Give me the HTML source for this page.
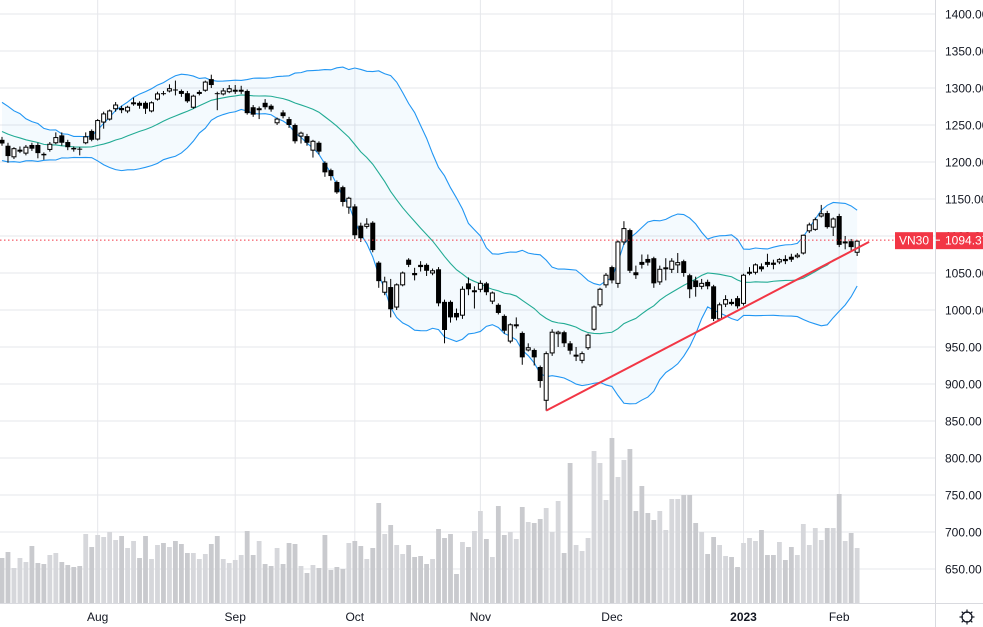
<!DOCTYPE html>
<html><head><meta charset="utf-8"><style>
html,body{margin:0;padding:0;background:#fff;}
svg{display:block;font-family:"Liberation Sans",sans-serif;}
</style></head><body>
<svg id="chart" width="983" height="627" viewBox="0 0 983 627" xmlns="http://www.w3.org/2000/svg">
<g id="grid"></g>
<g id="vol"></g>
<g id="bands"></g>
<g id="candles"></g>
<g id="overlay"></g>
<g id="axes"></g>
</svg>
<script>
const priorCloses=[1280,1275,1262,1270,1255,1248,1260,1240,1232,1250,1228,1238,1220,1235,1225,1215,1230,1222,1215];
const opens=[1230,1222,1207,1215,1212,1223,1223,1211,1217,1226,1236,1227,1219,1218,1226,1242,1231,1254,1258,1272,1273,1269,1280,1280,1280,1269,1285,1293,1296,1298,1296,1293,1274,1293,1297,1312,1293,1292,1295,1297,1297,1296,1274,1271,1280,1276,1253,1267,1258,1250,1235,1235,1216,1226,1199,1189,1173,1166,1139,1140,1114,1113,1118,1064,1024,1031,1004,1034,1068,1050,1061,1061,1050,1055,1011,1011,996,993,1036,1026,1028,1036,1012,1007,992,958,980,969,946,946,923,878,942,968,970,955,939,932,949,974,1007,1034,1058,1036,1092,1108,1051,1065,1069,1070,1038,1057,1055,1061,1066,1047,1040,1032,1038,1032,988,1008,1011,1016,1009,1051,1051,1059,1065,1064,1065,1069,1072,1072,1077,1107,1109,1127,1131,1112,1127,1092,1093,1078];
const closes=[1225,1208,1218,1216,1220,1218,1212,1209,1224,1233,1226,1220,1217,1217,1234,1230,1256,1265,1269,1277,1270,1274,1280,1276,1272,1280,1292,1292,1299,1297,1292,1282,1289,1294,1308,1304,1292,1296,1299,1297,1297,1266,1264,1272,1274,1271,1258,1262,1250,1228,1239,1226,1228,1214,1186,1181,1159,1146,1151,1101,1097,1116,1081,1039,1038,1001,1034,1050,1061,1047,1058,1053,1053,1009,973,990,990,1028,1028,1026,1036,1024,1023,996,972,980,980,936,949,936,904,941,970,970,955,945,939,941,966,1004,1028,1047,1040,1092,1110,1053,1047,1061,1064,1036,1055,1057,1066,1064,1050,1028,1031,1036,1032,988,1007,1014,1008,1005,1047,1051,1061,1055,1061,1061,1068,1066,1068,1074,1101,1115,1122,1130,1112,1123,1088,1092,1085,1093];
const highs=[1234,1226,1220,1221,1223,1226,1226,1213,1227,1240,1240,1230,1221,1220,1240,1244,1258,1268,1271,1281,1276,1276,1287,1282,1282,1282,1295,1296,1305,1310,1298,1296,1291,1297,1310,1318,1295,1300,1304,1304,1303,1298,1277,1275,1285,1278,1260,1270,1261,1252,1241,1238,1230,1228,1201,1191,1175,1168,1153,1143,1118,1124,1120,1066,1045,1042,1036,1052,1070,1057,1066,1063,1056,1058,1014,1013,1002,1032,1044,1032,1040,1038,1025,1009,994,982,990,971,955,948,925,944,974,972,972,958,950,944,968,1006,1030,1050,1060,1094,1120,1110,1060,1075,1075,1072,1060,1070,1070,1077,1068,1049,1045,1042,1041,1034,1010,1020,1015,1019,1049,1058,1063,1063,1076,1068,1070,1074,1076,1077,1102,1118,1125,1142,1134,1125,1130,1100,1096,1094];
const lows=[1222,1199,1204,1212,1209,1215,1205,1203,1214,1224,1222,1216,1214,1209,1224,1228,1229,1245,1256,1268,1266,1266,1276,1272,1265,1267,1283,1290,1294,1290,1288,1280,1272,1290,1295,1300,1270,1290,1293,1292,1292,1264,1261,1258,1271,1268,1250,1259,1246,1225,1225,1222,1206,1210,1180,1175,1157,1140,1130,1096,1092,1110,1078,1030,1020,990,1000,1032,1058,1040,1052,1046,1047,1005,955,983,986,988,1020,1002,1024,1020,1008,994,968,955,975,926,944,925,895,864,938,950,950,940,931,928,946,972,1004,1030,1036,1030,1088,1050,1042,1056,1060,1030,1034,1040,1050,1050,1045,1016,1018,1028,1028,985,985,1004,1006,1002,1006,1047,1048,1052,1058,1055,1062,1062,1065,1070,1075,1104,1107,1125,1110,1100,1085,1082,1080,1073];
const volumes=[45,51,35,45,41,57,40,39,48,50,41,38,36,37,69,56,68,66,71,63,67,55,62,45,67,44,58,60,56,62,59,50,50,44,49,59,67,44,40,43,48,72,48,62,39,37,55,39,60,59,37,30,38,35,68,33,36,34,60,62,57,44,55,100,69,78,58,49,58,46,47,39,44,74,65,69,29,61,56,72,92,64,46,97,68,71,64,96,81,80,84,95,71,102,50,140,58,52,65,152,140,103,165,126,143,154,92,117,90,83,92,73,104,104,108,108,80,71,49,66,58,47,46,36,60,65,62,73,48,48,61,43,56,48,79,58,75,63,75,75,109,62,70,55];
const priceTicks=[1400,1350,1300,1250,1200,1150,1100,1050,1000,950,900,850,800,750,700,650];
const monthLabels=["Aug","Sep","Oct","Nov","Dec","2023","Feb"];
const monthIndex=[16,39,59,80,102,124,140];
const lastPrice=1094.37;
const trendStart=[91,864];
const trendEnd=[145,1092];

const NS="http://www.w3.org/2000/svg";
const PLOT_R=935, VOL_BASE=603;
function xs(i){return 2+i*5.98;}
function ys(p){return 310-(p-1000)*0.74;}
function vh(v){return v;}
function mk(tag,attrs,parent){const e=document.createElementNS(NS,tag);for(const k in attrs)e.setAttribute(k,attrs[k]);parent.appendChild(e);return e;}
const grid=document.getElementById('grid'),volG=document.getElementById('vol'),bandG=document.getElementById('bands'),cG=document.getElementById('candles'),ov=document.getElementById('overlay'),ax=document.getElementById('axes');

priceTicks.forEach(p=>{const l=mk('line',{x1:0,x2:PLOT_R,y1:ys(p),y2:ys(p),stroke:'#e6e7eb','stroke-width':1},grid);

});
monthIndex.forEach((mi,k)=>{const x=xs(mi);const l=mk('line',{x1:x,x2:x,y1:0,y2:VOL_BASE,stroke:'#e6e7eb','stroke-width':1},grid);

});

volumes.forEach((v,i)=>{const up=closes[i]>=opens[i];const r=mk('rect',{x:xs(i)-2.4,y:VOL_BASE-vh(v),width:4.8,height:vh(v),fill:up?'#d6d7db':'#c9cace'},volG);

});

const all=priorCloses.concat(closes),P=priorCloses.length;
const up=[],mid=[],lo=[];
for(let i=0;i<closes.length;i++){const w=all.slice(i+P-19,i+P+1);const m=w.reduce((a,b)=>a+b,0)/w.length;const sd=Math.sqrt(w.reduce((a,b)=>a+(b-m)*(b-m),0)/w.length);mid.push(m);up.push(m+2*sd);lo.push(m-2*sd);}
const ptsU=up.map((v,i)=>xs(i)+','+ys(v)),ptsL=lo.map((v,i)=>xs(i)+','+ys(v));
const fill=mk('polygon',{points:ptsU.concat(ptsL.slice().reverse()).join(' '),fill:'rgba(33,150,243,0.05)'},bandG);


const bu=mk('polyline',{points:ptsU.join(' '),fill:'none',stroke:'#2196f3','stroke-width':1.1},bandG);


const bl=mk('polyline',{points:ptsL.join(' '),fill:'none',stroke:'#2196f3','stroke-width':1.1},bandG);


const bm=mk('polyline',{points:mid.map((v,i)=>xs(i)+','+ys(v)).join(' '),fill:'none',stroke:'#22ab94','stroke-width':1.1},bandG);



closes.forEach((c,i)=>{const o=opens[i],x=xs(i);const g=mk('g',{},cG);


mk('line',{x1:x,x2:x,y1:ys(highs[i]),y2:ys(lows[i]),stroke:'#000','stroke-width':1},g);
const t=ys(Math.max(o,c)),b=ys(Math.min(o,c));const h=Math.max(b-t,1);
if(c>=o){mk('rect',{x:x-2,y:t,width:4,height:h,fill:'#fff',stroke:'#000','stroke-width':1},g);}
else{mk('rect',{x:x-2.5,y:t,width:5,height:h,fill:'#000'},g);}
});

const dl=mk('line',{x1:0,x2:PLOT_R,y1:ys(lastPrice),y2:ys(lastPrice),stroke:'#f23645','stroke-width':1,'stroke-dasharray':'1.5,2.5'},ov);


const tl=mk('line',{x1:xs(trendStart[0]),y1:ys(trendStart[1]),x2:xs(trendEnd[0]),y2:ys(trendEnd[1]),stroke:'#f23645','stroke-width':2},ov);



const ra=mk('line',{x1:PLOT_R+0.5,x2:PLOT_R+0.5,y1:0,y2:627,stroke:'#d9dadf','stroke-width':1},ax);


const ba=mk('line',{x1:0,x2:983,y1:VOL_BASE+0.5,y2:VOL_BASE+0.5,stroke:'#d9dadf','stroke-width':1},ax);


priceTicks.forEach(p=>{const t=mk('text',{x:945,y:ys(p)+4.5,'font-size':12,fill:'#131722'},ax);t.textContent=p.toFixed(2);

});
monthLabels.forEach((m,k)=>{const t=mk('text',{x:xs(monthIndex[k]),y:621,'font-size':12,fill:'#131722','text-anchor':'middle','font-weight':m==='2023'?'bold':'normal'},ax);t.textContent=m;

});
const yl=ys(lastPrice);
const sb=mk('rect',{x:895,y:yl-8,width:38,height:17,fill:'#f23645'},ax);


const st=mk('text',{x:914,y:yl+4.5,'font-size':12,fill:'#fff','text-anchor':'middle'},ax);st.textContent='VN30';


const pb=mk('rect',{x:936,y:yl-8,width:50,height:17,fill:'#f23645'},ax);


mk('line',{x1:933,x2:940,y1:yl,y2:yl,stroke:'#fff','stroke-width':1},ax);
const pt=mk('text',{x:945,y:yl+4.5,'font-size':12,fill:'#fff'},ax);pt.textContent=lastPrice.toFixed(2);


const gear=mk('g',{},ax);


mk('circle',{cx:967,cy:617,r:5,fill:'none',stroke:'#131722','stroke-width':1.2},gear);
[0,45,90,135].forEach(a=>{const r=a*Math.PI/180;mk('line',{x1:967+Math.cos(r)*7.5,y1:617+Math.sin(r)*7.5,x2:967-Math.cos(r)*7.5,y2:617-Math.sin(r)*7.5,stroke:'#131722','stroke-width':1.2},gear);});
mk('circle',{cx:967,cy:617,r:4,fill:'#fff'},gear);
</script>
</body></html>
